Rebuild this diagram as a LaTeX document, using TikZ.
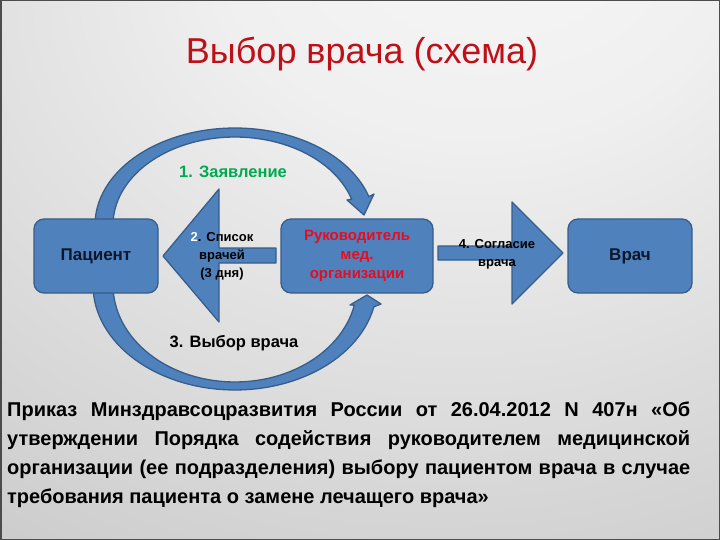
\documentclass[tikz,border=0pt]{standalone}
\usepackage{fontspec}
\setmainfont{Liberation Sans}
\definecolor{boxblue}{RGB}{79,129,189}
\definecolor{boxedge}{RGB}{56,93,138}
\definecolor{titlered}{RGB}{190,16,24}
\definecolor{headred}{RGB}{232,12,32}
\definecolor{lblgreen}{RGB}{0,170,80}
\definecolor{navy}{RGB}{14,22,44}
\pgfdeclareradialshading{bgshade}{\pgfpoint{10bp}{37bp}}{color(0bp)=(white!97!black); color(18bp)=(white!94!black); color(60bp)=(white!77!black); color(100bp)=(white!64!black)}
\tikzset{
  blueshape/.style={fill=boxblue, draw=boxedge, line width=1.3pt, line join=round},
  box/.style={blueshape, rounded corners=10pt, minimum height=74pt, inner sep=2pt, align=center, font=\bfseries\fontsize{17}{19}\selectfont, text=navy},
  lbl/.style={font=\bfseries\fontsize{16.5}{18}\selectfont, inner sep=0pt},
  small/.style={font=\bfseries\fontsize{13}{18}\selectfont, inner sep=0pt, align=center}
}
\begin{document}
\begin{tikzpicture}[x=1pt,y=-1pt]
\useasboundingbox (0,0) rectangle (720,540);
\shade[shading=bgshade] (0,0) rectangle (720,540);
\draw[black!70, line width=1.5pt] (0.75,0.75) rectangle (719.25,539.25);

% title
\node[anchor=base, font=\fontsize{36}{40}\selectfont, text=titlered, inner sep=0pt] (title) at (362,64) {Выбор врача (схема)};

% curved arrows
\path[blueshape] plot[domain=180:17, samples=60] ({235+140*cos(\x)},{225-97*sin(\x)})
  -- (374,194) -- (364,215) -- (347,200)
  -- plot[domain=17:180, samples=60] ({235+122*cos(\x)},{225-88*sin(\x)}) -- cycle;
\path[blueshape] plot[domain=180:12, samples=60] ({235+142*cos(\x)},{285+105*sin(\x)})
  -- (381,304) -- (367,295) -- (350,305)
  -- plot[domain=12:180, samples=60] ({235+122*cos(\x)},{285+97*sin(\x)}) -- cycle;

% boxes
\node[box, minimum width=124pt] (pat) at (96,256) {Пациент};
\node[box, minimum width=152pt, text=headred, font=\bfseries\fontsize{15}{19}\selectfont] (ruk) at (357,256) {Руководитель\\мед.\\организации};
\node[box, minimum width=124pt] (vr) at (630,256) {Врач};

% straight arrows
\path[blueshape] (163,256) -- (219,189) -- (219,248) -- (276,248) -- (276,263) -- (219,263) -- (219,322) -- cycle;
\path[blueshape] (438,246) -- (512,246) -- (512,202) -- (563,253) -- (512,304) -- (512,260) -- (438,260) -- cycle;

% labels
\node[lbl, text=lblgreen] (l1) at (233,172) {1. Заявление};
\node[small] (l2) at (222,256) {\textcolor{white}{2}. Список\\врачей\\(3 дня)};
\node[lbl] (l3) at (234,343) {3. Выбор врача};
\node[small] (l4) at (497,254) {4. Согласие\\врача};

% paragraph
\node[anchor=north west, text width=683pt, align=justify, inner sep=0pt, font=\bfseries\fontsize{20}{29}\selectfont] (txt) at (7,402)
{Приказ Минздравсоцразвития России от 26.04.2012 N 407н «Об\linebreak утверждении Порядка содействия руководителем медицинской\linebreak организации (ее подразделения) выбору пациентом врача в случае\linebreak требования пациента о замене лечащего врача»};
\end{tikzpicture}
\end{document}
